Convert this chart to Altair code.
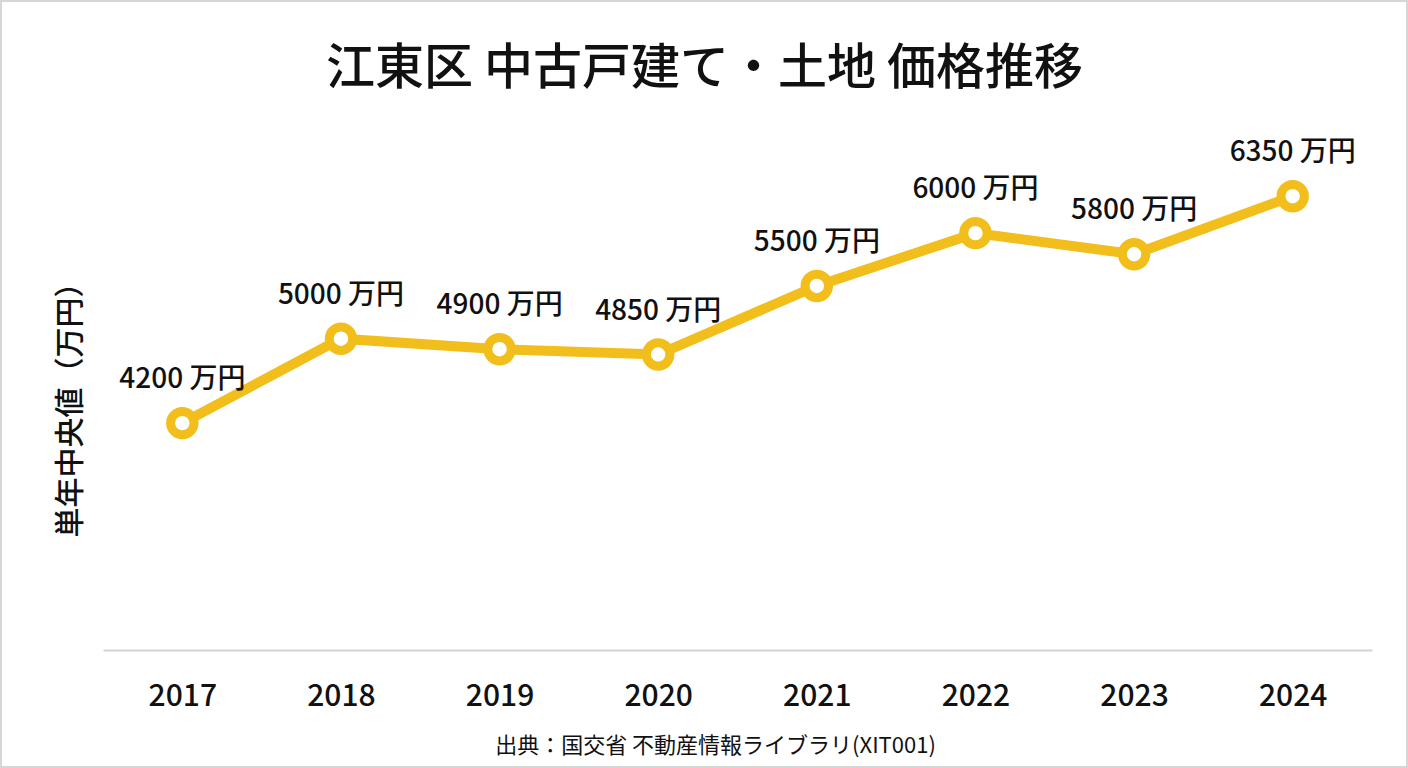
import altair as alt
import pandas as pd

# ---- data ----
years = ["2017", "2018", "2019", "2020", "2021", "2022", "2023", "2024"]
prices = [4200, 5000, 4900, 4850, 5500, 6000, 5800, 6350]
unit = "万円"
title_text = "江東区 中古戸建て・土地 価格推移"
y_title = "単年中央値（万円）"
source_text = "出典：国交省 不動産情報ライブラリ(XIT001)"

df = pd.DataFrame({"year": years, "price": prices})
df["label"] = [f"{p} {unit}" for p in prices]

YELLOW = "#F1BE1B"
FONT = "Noto Sans CJK JP"
TXT = "#111111"

x_enc = alt.X(
    "year:O",
    scale=alt.Scale(type="point", padding=0.5),
    axis=alt.Axis(
        title=source_text,
        labelAngle=0,
        labelFontSize=30,
        labelFontWeight=500,
        labelColor=TXT,
        labelFont=FONT,
        labelPadding=31,
        ticks=False,
        tickSize=0,
        domainColor="#d4d4d4",
        domainWidth=2,
        grid=False,
        titleFont=FONT,
        titleFontSize=22,
        titleFontWeight="normal",
        titleColor=TXT,
        titleX=612,
        titleY=102,
        titleAlign="center",
        titleBaseline="alphabetic",
    ),
)
y_enc = alt.Y(
    "price:Q",
    scale=alt.Scale(domain=[2050, 6750], nice=False, zero=False),
    axis=alt.Axis(
        title=y_title,
        labels=False,
        ticks=False,
        domain=False,
        grid=False,
        titleFont=FONT,
        titleFontSize=30,
        titleFontWeight=500,
        titleColor=TXT,
        titleAngle=270,
        titleX=-33,
        titleY=248,
        titleAlign="center",
        titleBaseline="middle",
    ),
)

base = alt.Chart(df).encode(x=x_enc, y=y_enc)

line = base.mark_line(color=YELLOW, strokeWidth=10)
points = base.mark_point(
    shape="circle", filled=True, fill="white", stroke=YELLOW,
    strokeWidth=9, size=550, opacity=1
)
labels = base.mark_text(
    dy=-35, baseline="alphabetic", fontSize=28, fontWeight=500, font=FONT, color=TXT
).encode(text="label:N")

border = alt.Chart(pd.DataFrame({"b": [0]})).mark_rect(
    fill="transparent", stroke="#d6d6d6", strokeWidth=2
).encode(
    x=alt.value(-102), x2=alt.value(1304), y=alt.value(-153), y2=alt.value(613)
)

chart = (
    alt.layer(border, line, points, labels)
    .properties(
        width=1269,
        height=496,
        autosize=alt.AutoSizeParams(type="none"),
        padding={"left": 103, "top": 154, "right": 36, "bottom": 118},
        background="white",
        title=alt.Title(
            title_text,
            font=FONT,
            fontSize=49,
            fontWeight=500,
            color=TXT,
            anchor="middle",
            frame="group",
            dx=-33,
            offset=-133,
            baseline="alphabetic",
        ),
    )
    .configure_view(strokeOpacity=0)
)

chart.save("out.html", embed_options={"renderer": "svg", "actions": False})
